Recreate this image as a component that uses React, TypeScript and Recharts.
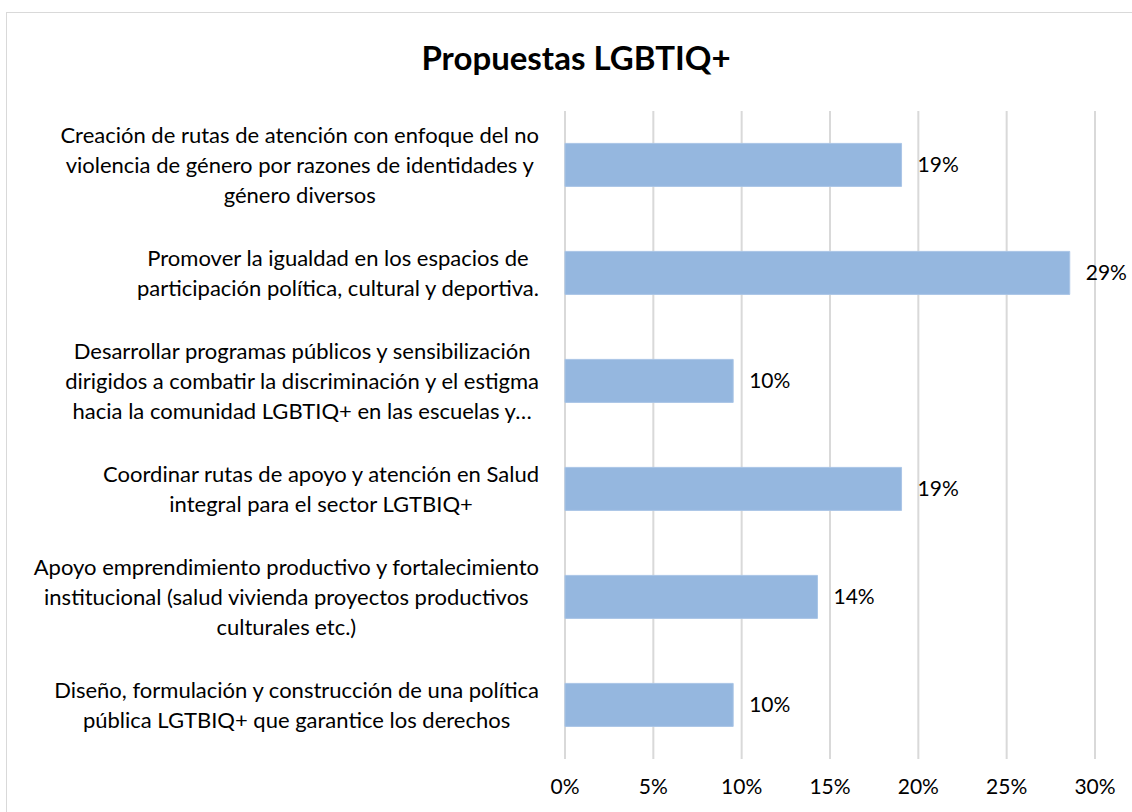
import { Bar, BarChart, CartesianGrid, LabelList, XAxis, YAxis } from "recharts"

const categories = [
  "Creación de rutas de atención con enfoque del no\nviolencia de género por razones de identidades y\ngénero diversos",
  "Promover la igualdad en los espacios de\nparticipación política, cultural y deportiva.",
  "Desarrollar programas públicos y sensibilización\ndirigidos a combatir la discriminación y el estigma\nhacia la comunidad LGBTIQ+ en las escuelas y…",
  "Coordinar rutas de apoyo y atención en Salud\nintegral para el sector LGTBIQ+",
  "Apoyo emprendimiento productivo y fortalecimiento\ninstitucional (salud vivienda proyectos productivos\nculturales etc.)",
  "Diseño, formulación y construcción de una política\npública LGTBIQ+ que garantice los derechos",
]

const shares = [0.1905, 0.2857, 0.0952, 0.1905, 0.1429, 0.0952]

const xTicks = [0, 0.05, 0.1, 0.15, 0.2, 0.25, 0.3]

const title = "Propuestas LGBTIQ+"

const chartData = categories.map((name, i) => ({ name, value: shares[i] }))

const FONT = "Lato, 'Open Sans', sans-serif"
const pct = (v: number) => `${Math.round(v * 100)}%`

function CategoryTick({ x, y, payload }: any) {
  const lines = String(payload.value).split("\n")
  return (
    <g>
      <foreignObject x={x - 578} y={y - 54} width={560} height={108}>
        <div
          style={{
            display: "flex",
            height: 108,
            alignItems: "center",
            justifyContent: "flex-end",
          }}
        >
          <div
            style={{
              textAlign: "center",
              fontFamily: FONT,
              fontSize: 22,
              lineHeight: "30px",
              color: "#000",
              whiteSpace: "nowrap",
            }}
          >
            {lines.map((l, i) => (
              <div key={i}>{l}</div>
            ))}
          </div>
        </div>
      </foreignObject>
    </g>
  )
}

export default function App() {
  return (
    <div style={{ position: "absolute", left: 0, top: 0, width: 1132, height: 812, overflow: "hidden", background: "#fff" }}>
      <div
        style={{
          position: "absolute",
          left: 6,
          top: 12,
          width: 1140,
          height: 820,
          border: "1px solid #D9D9D9",
          boxSizing: "border-box",
        }}
      />
      <div
        style={{
          position: "absolute",
          left: 0,
          width: 1152,
          top: 37,
          lineHeight: "40px",
          textAlign: "center",
          fontFamily: FONT,
          fontWeight: 700,
          fontSize: 33,
          color: "#000",
        }}
      >
        {title}
      </div>
      <div style={{ position: "absolute", left: 0, top: 0 }}>
        <BarChart
          width={1132}
          height={812}
          data={chartData}
          layout="vertical"
          margin={{ top: 111, right: 37, bottom: 0, left: 0 }}
          barCategoryGap="30%"
        >
          <CartesianGrid horizontal={false} stroke="#D9D9D9" strokeWidth={2} />
          <XAxis
            type="number"
            domain={[0, 0.3]}
            ticks={xTicks}
            tickFormatter={pct}
            axisLine={false}
            tickLine={false}
            tickMargin={14}
            tick={{ fill: "#000", fontSize: 21, fontFamily: FONT }}
            height={53}
          />
          <YAxis
            type="category"
            dataKey="name"
            width={565}
            axisLine={false}
            tickLine={false}
            tick={<CategoryTick />}
            interval={0}
          />
          <Bar dataKey="value" fill="#95B7DF" stroke="#A9C5E6" strokeWidth={1} isAnimationActive={false}>
            <LabelList
              dataKey="value"
              position="right"
              offset={16}
              formatter={(v: any) => pct(Number(v))}
              style={{ fill: "#000", fontSize: 21, fontFamily: FONT }}
            />
          </Bar>
        </BarChart>
      </div>
    </div>
  )
}
